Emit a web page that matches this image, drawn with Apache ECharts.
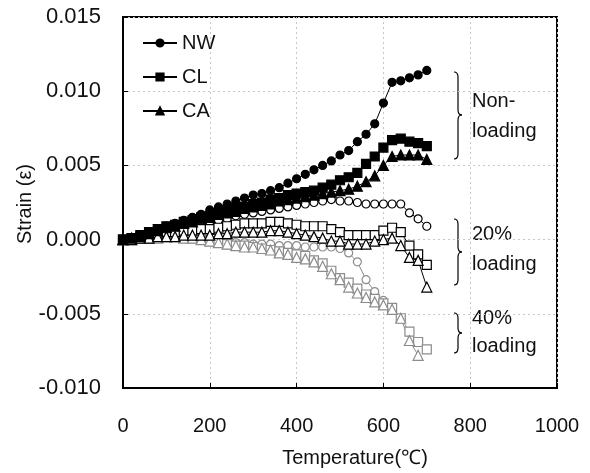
<!DOCTYPE html>
<html><head><meta charset="utf-8">
<script src="https://cdn.jsdelivr.net/npm/echarts@6/dist/echarts.min.js"></script>
<style>html,body{margin:0;padding:0;background:#fff}#c{width:590px;height:473px}</style>
</head><body><div id="c"></div>
<script>
var temps = [0,20,40,60,80,100,120,140,160,180,200,220,240,260,280,300,320,340,360,380,400,420,440,460,480,500,520,540,560,580,600,620,640,660,680,700];
var nwNon = [0,0.0001,0.0003,0.0005,0.0007,0.0009,0.0011,0.0013,0.0015,0.0017,0.0020,0.0022,0.0024,0.0026,0.0028,0.0030,0.0031,0.0033,0.0035,0.0038,0.0041,0.0044,0.0047,0.0050,0.0053,0.0057,0.0060,0.0066,0.0071,0.0078,0.0092,0.0106,0.0107,0.0109,0.0111,0.0114];
var clNon = [0,0.0001,0.0003,0.0005,0.0007,0.0009,0.0010,0.0012,0.0013,0.0015,0.0016,0.0018,0.0019,0.0021,0.0022,0.0024,0.0025,0.0027,0.0028,0.0030,0.0031,0.0032,0.0033,0.0035,0.0037,0.0040,0.0042,0.0045,0.0051,0.0056,0.0062,0.0067,0.0068,0.0066,0.0065,0.0063];
var caNon = [0,0.0001,0.0002,0.0004,0.0006,0.0008,0.0009,0.0011,0.0012,0.0014,0.0015,0.0017,0.0018,0.0019,0.0021,0.0022,0.0023,0.0024,0.0026,0.0027,0.0028,0.0029,0.0030,0.0031,0.0032,0.0033,0.0034,0.0036,0.0039,0.0043,0.0050,0.0056,0.0057,0.0057,0.0057,0.0054];
var nw20 = [0,0.0001,0.0002,0.0003,0.0005,0.0006,0.0007,0.0008,0.0009,0.0010,0.0012,0.0013,0.0014,0.0016,0.0017,0.0018,0.0019,0.0020,0.0021,0.0022,0.0023,0.0024,0.0025,0.0026,0.0027,0.0026,0.0026,0.0025,0.0024,0.0024,0.0024,0.0024,0.0024,0.0018,0.0014,0.0009];
var cl20 = [0,0.0001,0.0002,0.0003,0.0004,0.0005,0.0005,0.0006,0.0006,0.0007,0.0007,0.0008,0.0009,0.0010,0.0011,0.0011,0.0011,0.0012,0.0012,0.0011,0.0010,0.0009,0.0009,0.0009,0.0007,0.0005,0.0003,0.0003,0.0003,0.0003,0.0006,0.0008,0.0005,-0.0004,-0.0010,-0.0017];
var ca20 = [0,0,0.0001,0.0001,0.0002,0.0002,0.0002,0.0003,0.0003,0.0003,0.0003,0.0004,0.0004,0.0005,0.0005,0.0005,0.0005,0.0006,0.0006,0.0005,0.0004,0.0003,0.0002,0.0001,-0.0001,-0.0001,-0.0003,-0.0003,-0.0003,-0.0001,0.0000,0.0001,-0.0004,-0.0012,-0.0014,-0.0032];
var nw40 = [0,0,0.0001,0.0001,0.0002,0.0002,0.0002,0.0002,0.0001,0.0001,0.0000,-0.0001,-0.0001,-0.0002,-0.0002,-0.0003,-0.0003,-0.0003,-0.0004,-0.0004,-0.0004,-0.0005,-0.0005,-0.0005,-0.0005,-0.0006,-0.0009,-0.0015,-0.0027,-0.0035,-0.0041,null,null,null,null,null];
var cl40 = [0,0,0.0001,0.0001,0.0002,0.0002,0.0002,0.0002,0.0001,0.0000,-0.0001,-0.0002,-0.0003,-0.0004,-0.0004,-0.0005,-0.0006,-0.0007,-0.0008,-0.0009,-0.0010,-0.0011,-0.0014,-0.0016,-0.0021,-0.0026,-0.0029,-0.0033,-0.0037,-0.0040,-0.0043,-0.0046,-0.0053,-0.0062,-0.0069,-0.0074];
var ca40 = [0,0,0.0001,0.0001,0.0001,0.0002,0.0002,0.0001,0.0001,0.0000,-0.0001,-0.0002,-0.0003,-0.0004,-0.0005,-0.0005,-0.0006,-0.0007,-0.0009,-0.0010,-0.0012,-0.0013,-0.0015,-0.0018,-0.0023,-0.0027,-0.0032,-0.0036,-0.0039,-0.0042,-0.0044,-0.0047,-0.0053,-0.0068,-0.0078,null];

function pairs(v){ var out=[]; for(var i=0;i<temps.length;i++){ if(v[i]!==null) out.push([temps[i],v[i]]); } return out; }
var FONT = '"Liberation Sans", Arial, sans-serif';
function mk(name, vals, sym, size, fill, stroke){
  return {name:name, type:'line', data:pairs(vals), symbol:sym, symbolSize:size, showSymbol:true,
    lineStyle:{color:stroke, width:1}, itemStyle:{color:fill, borderColor:stroke, borderWidth:1.2},
    emphasis:{disabled:true}, animation:false, connectNulls:false};
}
var chart = echarts.init(document.getElementById('c'), null, {renderer:'canvas'});
function brace(x0, y1, y2, ym){
  var w=8, h=w/2, r=5, st={fill:null, stroke:'#000', lineWidth:1.2};
  return [
    {type:'bezierCurve', shape:{x1:x0,y1:y1,cpx1:x0+h,cpy1:y1,x2:x0+h,y2:y1+r}, style:st},
    {type:'line', shape:{x1:x0+h,y1:y1+r,x2:x0+h,y2:ym-r}, style:st},
    {type:'bezierCurve', shape:{x1:x0+h,y1:ym-r,cpx1:x0+h,cpy1:ym,x2:x0+w,y2:ym}, style:st},
    {type:'bezierCurve', shape:{x1:x0+w,y1:ym,cpx1:x0+h,cpy1:ym,x2:x0+h,y2:ym+r}, style:st},
    {type:'line', shape:{x1:x0+h,y1:ym+r,x2:x0+h,y2:y2-r}, style:st},
    {type:'bezierCurve', shape:{x1:x0+h,y1:y2-r,cpx1:x0+h,cpy1:y2,x2:x0,y2:y2}, style:st}
  ];
}
var gray='#8c8c8c';
var graphics = [].concat(brace(454,72,159,115), brace(454,219,285,252), brace(454,313,353,333), [
    {type:'text', left:472, top:86, style:{text:'Non-\nloading', font:'20px '+FONT, fill:'#111', lineHeight:30}},
    {type:'text', left:472, top:219, style:{text:'20%\nloading', font:'20px '+FONT, fill:'#111', lineHeight:30}},
    {type:'text', left:472, top:304, style:{text:'40%\nloading', font:'20px '+FONT, fill:'#111', lineHeight:28}},
    {type:'text', x:25, y:204, rotation:Math.PI/2, style:{text:'Strain (ε)', font:'20px '+FONT, fill:'#111', align:'center', verticalAlign:'middle'}}
]);
chart.setOption({
  animation:false,
  grid:{left:123, right:33, top:17, bottom:82, show:true, borderColor:'#000', borderWidth:2},
  legend:{data:['NW','CL','CA'], orient:'vertical', left:137, top:28, itemWidth:34, itemHeight:9, itemGap:14,
    textStyle:{fontFamily:FONT, fontSize:20, color:'#111'}},
  xAxis:{type:'value', min:0, max:1000, interval:200, name:'Temperature(℃)', nameLocation:'middle', nameGap:60,
    nameTextStyle:{fontFamily:FONT, fontSize:20, color:'#111', padding:[0,0,0,30]},
    axisLine:{onZero:false, lineStyle:{color:'#000', width:2}}, axisTick:{inside:true, length:5, lineStyle:{color:'#000'}},
    axisLabel:{fontFamily:FONT, fontSize:20, color:'#111', margin:28, formatter:function(v){ return String(v); }},
    splitLine:{show:true, lineStyle:{color:'#c8c8c8', type:[2,3], width:1}}},
  yAxis:{type:'value', min:-0.010, max:0.015, interval:0.005,
    axisLine:{show:true, onZero:false, lineStyle:{color:'#000', width:2}}, axisTick:{show:true, inside:true, length:5, lineStyle:{color:'#000'}},
    axisLabel:{fontFamily:FONT, fontSize:22, color:'#111', margin:22, formatter:function(v){ return v.toFixed(3); }},
    splitLine:{show:true, lineStyle:{color:'#c8c8c8', type:[2,3], width:1}}},
  series:[
    mk('NW 40%', nw40, 'circle', 8, '#fff', gray),
    mk('CL 40%', cl40, 'rect', 9, '#fff', gray),
    mk('CA 40%', ca40, 'triangle', 10, '#fff', gray),
    mk('NW 20%', nw20, 'circle', 8, '#fff', '#000'),
    mk('CL 20%', cl20, 'rect', 9, '#fff', '#000'),
    mk('CA 20%', ca20, 'triangle', 10, '#fff', '#000'),
    mk('NW', nwNon, 'circle', 8, '#000', '#000'),
    mk('CL', clNon, 'rect', 9, '#000', '#000'),
    mk('CA', caNon, 'triangle', 10, '#000', '#000')
  ],
  graphic:graphics
});
</script></body></html>
